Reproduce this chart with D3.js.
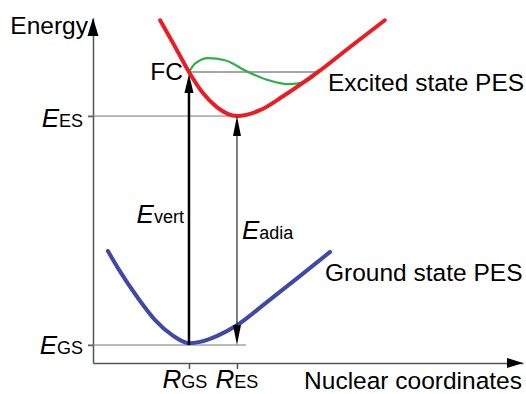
<!DOCTYPE html>
<html>
<head>
<meta charset="utf-8">
<script src="https://cdn.jsdelivr.net/npm/d3@7"></script>
<style>
  body { margin: 0; background: #fff; }
  text { font-family: "Liberation Sans", Arial, sans-serif; fill: #000; }
</style>
</head>
<body>
<div id="chart"></div>
<script>
// key positions (nuclear coordinate / energy, arbitrary units)
var rGS = 2, rES = 3;
var eGS = 0.4, eES = 5.49, eFC = 6.47;

// ground state PES
var gsX = [0.31, 0.52, 0.94, 1.29, 1.65, 2.0, 2.23, 2.6, 3.0, 3.63, 4.31, 4.94];
var gsE = [2.49, 2.11, 1.44, 0.96, 0.62, 0.44, 0.47, 0.61, 0.84, 1.36, 1.93, 2.47];

// excited state PES
var esX = [1.40, 1.67, 2.0, 2.29, 2.58, 3.0, 3.48, 3.96, 4.69, 5.35, 6.08];
var esE = [7.62, 7.11, 6.47, 6.0, 5.69, 5.49, 5.62, 5.93, 6.47, 7.02, 7.62];

// relaxation path from the Franck-Condon point
var fcX = [2.0, 2.13, 2.40, 2.75, 3.23, 3.65, 4.06, 4.42, 4.69];
var fcE = [6.47, 6.66, 6.78, 6.73, 6.47, 6.29, 6.2, 6.25, 6.47];

var svgWidth = 526;
var svgHeight = 394;

var svg = d3.select("#chart")
  .append("svg")
  .attr("width", svgWidth)
  .attr("height", svgHeight);

var x = d3.scaleLinear().domain([0, 8.96]).range([93, 523]);
var y = d3.scaleLinear().domain([0, 7.67]).range([363, 18]);

function pts(xs, es) {
  return xs.map(function(v, i) { return [v, es[i]]; });
}

var line = d3.line()
  .x(d => x(d[0]))
  .y(d => y(d[1]))
  .curve(d3.curveMonotoneX);

// axes
svg.append("g")
  .attr("transform", `translate(0, ${y(0)})`)
  .call(d3.axisBottom(x).tickValues([rGS, rES]).tickSize(6).tickSizeOuter(0).tickFormat(""));

svg.append("g")
  .attr("transform", `translate(${x(0)}, 0)`)
  .call(d3.axisLeft(y).tickValues([eGS, eES]).tickSize(5).tickSizeOuter(0).tickFormat(""));

svg.selectAll(".domain, .tick line")
  .attr("stroke", "#555")
  .attr("stroke-width", 1.5);

function arrowHead(tx, ty, dir, len, half) {
  // dir: "up", "down", "right"
  var p;
  if (dir == "up") p = [[tx, ty], [tx - half, ty + len], [tx + half, ty + len]];
  else if (dir == "down") p = [[tx, ty], [tx - half, ty - len], [tx + half, ty - len]];
  else p = [[tx, ty], [tx - len, ty - half], [tx - len, ty + half]];
  svg.append("path")
    .attr("d", "M" + p.join("L") + "Z")
    .attr("fill", "#000");
}

arrowHead(x(0), y.range()[1], "up", 18, 5.5);
arrowHead(x.range()[1], y(0), "right", 16, 5);

// reference levels
svg.append("line")
  .attr("x1", x(0) - 5).attr("x2", x(rES) + 3)
  .attr("y1", y(eES)).attr("y2", y(eES))
  .attr("stroke", "#777").attr("stroke-width", 1);
svg.append("line")
  .attr("x1", x(0) - 5).attr("x2", x(rES) + 9)
  .attr("y1", y(eGS)).attr("y2", y(eGS))
  .attr("stroke", "#777").attr("stroke-width", 1);
svg.append("line")
  .attr("x1", x(rGS)).attr("x2", x(fcX[fcX.length - 1]))
  .attr("y1", y(eFC)).attr("y2", y(eFC))
  .attr("stroke", "#888").attr("stroke-width", 1.5);

// curves
svg.append("path")
  .attr("d", line(pts(gsX, gsE)))
  .attr("fill", "none").attr("stroke", "#4048a8").attr("stroke-width", 4)
  .attr("stroke-linecap", "round");

svg.append("path")
  .attr("d", line(pts(fcX, fcE)))
  .attr("fill", "none").attr("stroke", "#2bb04a").attr("stroke-width", 2.2);

svg.append("path")
  .attr("d", line(pts(esX, esE)))
  .attr("fill", "none").attr("stroke", "#ed1c24").attr("stroke-width", 4)
  .attr("stroke-linecap", "round");

// vertical excitation
svg.append("line")
  .attr("x1", x(rGS)).attr("x2", x(rGS))
  .attr("y1", y(eGS)).attr("y2", y(eFC) + 16)
  .attr("stroke", "#000").attr("stroke-width", 2.5);
arrowHead(x(rGS), y(eFC) + 2, "up", 19, 4.5);

// adiabatic energy
svg.append("line")
  .attr("x1", x(rES)).attr("x2", x(rES))
  .attr("y1", y(eES) + 10).attr("y2", y(eGS) - 10)
  .attr("stroke", "#000").attr("stroke-width", 1);
arrowHead(x(rES), y(eES), "up", 20, 4);
arrowHead(x(rES), y(eGS), "down", 20, 4);

// labels
function symLabel(tx, ty, main, sub, anchor) {
  var t = svg.append("text")
    .attr("x", tx).attr("y", ty)
    .attr("text-anchor", anchor || "start");
  t.append("tspan").attr("font-style", "italic").attr("font-size", "26px").text(main);
  t.append("tspan").attr("font-size", "18px").text(sub);
}

symLabel(x(0) - 10, y(eES) + 11, "E", "ES", "end");
symLabel(x(0) - 10, y(eGS) + 9, "E", "GS", "end");
symLabel(x(rGS) - 4, 388, "R", "GS", "middle");
symLabel(x(rES), 388, "R", "ES", "middle");
symLabel(x(rGS) - 5, 223, "E", "vert", "end");
symLabel(x(rES) + 5, 239, "E", "adia", "start");

function plainLabel(tx, ty, s, anchor) {
  svg.append("text")
    .attr("x", tx).attr("y", ty)
    .attr("text-anchor", anchor || "start")
    .attr("font-size", "24.5px")
    .text(s);
}

plainLabel(88, 34, "Energy", "end");
plainLabel(x(rGS) - 6, y(eFC) + 8, "FC", "end");
plainLabel(328, 91, "Excited state PES");
plainLabel(325, 281, "Ground state PES");
plainLabel(522, 389, "Nuclear coordinates", "end");
</script>
</body>
</html>
